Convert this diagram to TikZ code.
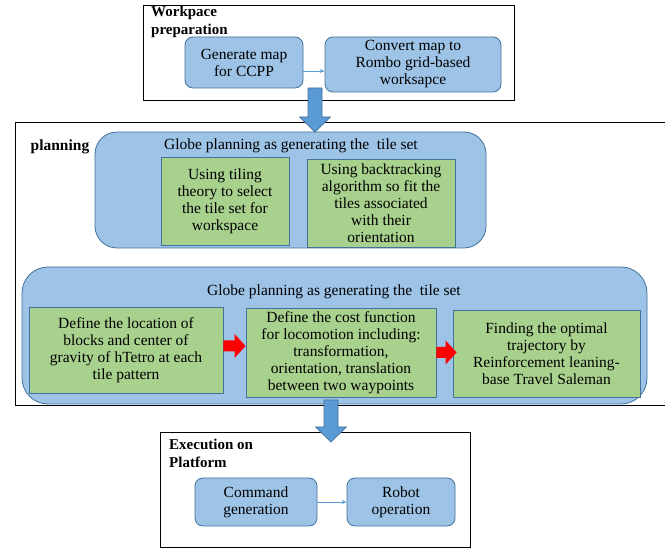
\documentclass[tikz,border=0pt]{standalone}
\usepackage{fontspec}
\setmainfont{Liberation Serif}
\usetikzlibrary{calc,arrows.meta}
\definecolor{bfill}{HTML}{9DC3E6}
\definecolor{bdraw}{HTML}{41719C}
\definecolor{gfill}{HTML}{A9D18E}
\definecolor{afill}{HTML}{5B9BD5}
\definecolor{tarrow}{HTML}{5B9BD5}
\newcommand\vblockarrow[2]{%
  \filldraw[bigarrow] let \p1=(#1), \p2=(#2) in
   (\x1-7pt,\y1) -- (\x1+7pt,\y1) -- (\x1+7pt,\y2+15pt) -- (\x1+15.5pt,\y2+15pt)
   -- (\x1,\y2) -- (\x1-15.5pt,\y2+15pt) -- (\x1-7pt,\y2+15pt) -- cycle;}
\newcommand\hblockarrow[2]{%
  \fill[redarrow] let \p1=(#1), \p2=(#2) in
   (\x1,\y1+5.5pt) -- (\x2-11pt,\y1+5.5pt) -- (\x2-11pt,\y1+12pt) -- (\x2,\y1)
   -- (\x2-11pt,\y1-12pt) -- (\x2-11pt,\y1-5.5pt) -- (\x1,\y1-5.5pt) -- cycle;}
\tikzset{
  txt/.style={font=\fontsize{15.5}{17}\selectfont, text=black},
  bluebox/.style={txt, rounded corners=8pt, fill=bfill, draw=bdraw, line width=0.8pt,
    align=center, inner sep=0pt},
  greenbox/.style={txt, fill=gfill, draw=bdraw, line width=0.8pt, align=center, inner sep=0pt},
  panel/.style={rounded corners=22pt, fill=bfill, draw=bdraw, line width=0.8pt, inner sep=0pt},
  frame/.style={draw=black, line width=1pt},
  heading/.style={font=\fontsize{15}{18}\selectfont\bfseries, align=left, inner sep=0pt, anchor=north west},
  thinarrow/.style={draw=tarrow, line width=0.8pt, -{Stealth[length=5pt,width=4pt]}},
  bigarrow/.style={fill=afill, draw=bdraw, line width=0.7pt},
  redarrow/.style={fill=red},
}
\begin{document}
\begin{tikzpicture}[x=1pt,y=-1pt]
\useasboundingbox (0,0) rectangle (665,548);
% workspace preparation
\draw[frame] (143,6) rectangle (514,101);
\node[heading] (wp) at (151,6) {Workpace\\preparation};
\node[bluebox, minimum width=118pt, minimum height=51pt] (gen) at (244,62.5) {Generate map\\for CCPP};
\node[bluebox, minimum width=176pt, minimum height=55pt] (conv) at (413,64.5) {Convert map to\\Rombo grid-based\\worksapce};
\draw[thinarrow] ([yshift=-8.5pt]gen.east) -- ([yshift=-6.5pt]conv.west);
% planning frame
\draw[frame] (665,123) -- (15,123) -- (15,406) -- (665,406);
\node[txt, font=\fontsize{15.5}{17}\selectfont\bfseries] (pl) at (60,147) {planning};
\node[panel, minimum width=391pt, minimum height=116pt] (ub) at (290.5,190) {};
\node[txt] (ubt) at (291,146) {Globe planning as generating the~ tile set};
\node[greenbox, minimum width=128pt, minimum height=88pt] (g1) at (225,201) {Using tiling\\theory to select\\the tile set for\\workspace};
\node[greenbox, minimum width=148pt, minimum height=88pt] (g2) at (381,203) {Using backtracking\\algorithm so fit the\\tiles associated\\with their\\orientation};
\node[panel, rounded corners=26pt, minimum width=625pt, minimum height=137pt] (lb) at (334.5,335.5) {};
\node[txt] (lbt) at (334,292) {Globe planning as generating the~ tile set};
\node[greenbox, minimum width=194pt, minimum height=86pt] (g3) at (126,350) {Define the location of\\blocks and center of\\gravity of hTetro at each\\tile pattern};
\node[greenbox, minimum width=190pt, minimum height=89pt] (g4) at (341,352.5) {Define the cost function\\for locomotion including:\\transformation,\\orientation, translation\\between two waypoints};
\node[greenbox, minimum width=187pt, minimum height=87pt] (g5) at (546.5,353.5) {Finding the optimal\\trajectory by\\Reinforcement leaning-\\base Travel Saleman};
\hblockarrow{[yshift=4pt]g3.east}{g4.west}
\hblockarrow{g4.east}{[xshift=4pt]g5.west}
% execution
\draw[frame] (160,433) rectangle (470,547);
\node[heading] (ex) at (169,439) {Execution on\\Platform};
\node[bluebox, minimum width=122pt, minimum height=48pt] (cmd) at (256,502) {Command\\generation};
\node[bluebox, minimum width=108pt, minimum height=48pt] (rob) at (401,502) {Robot\\operation};
\draw[thinarrow] (cmd.east) -- (rob.west);
% big arrows
\coordinate (a1s) at (315,88);
\coordinate (a1e) at (315,132);
\vblockarrow{a1s}{a1e}
\coordinate (a2s) at (331,400);
\coordinate (a2e) at (331,442);
\vblockarrow{a2s}{a2e}
\end{tikzpicture}
\end{document}
